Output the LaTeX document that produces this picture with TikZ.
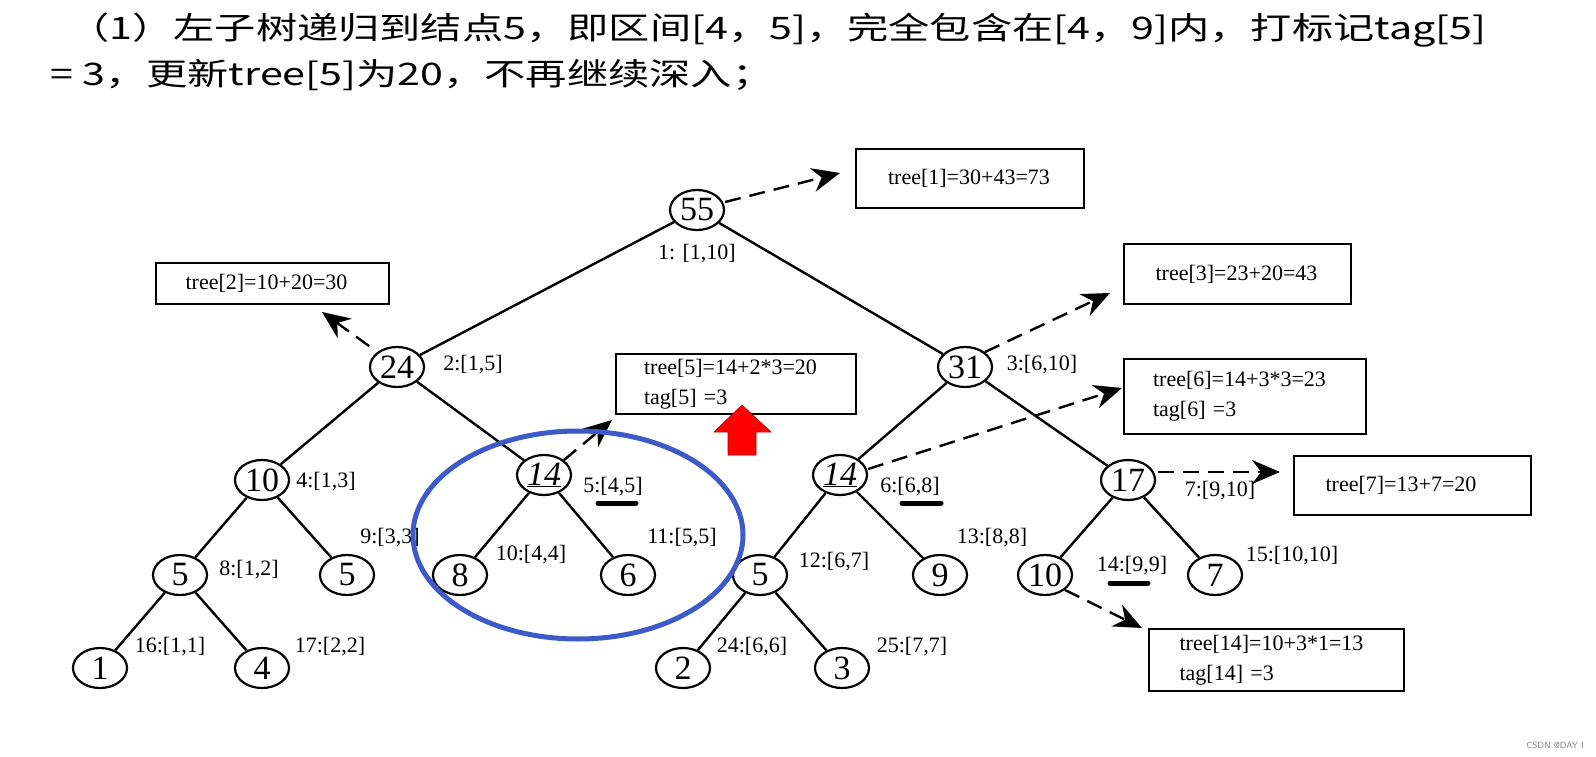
\documentclass[tikz,border=0pt]{standalone}
\usepackage{fontspec}
\setmainfont{Liberation Serif}
\newfontfamily\cjk{Noto Sans CJK SC}
\usetikzlibrary{shapes.geometric,arrows.meta}
\begin{document}
\begin{tikzpicture}[x=1pt,y=-1pt,
  tn/.style={draw,ellipse,line width=2.2pt,minimum width=54pt,minimum height=40pt,inner sep=0pt,font=\fontsize{34}{34}\selectfont},
  lb/.style={font=\fontsize{22}{24}\selectfont,inner sep=0pt},
  bx/.style={draw,line width=2.2pt,anchor=north west,align=left,font=\fontsize{22}{30}\selectfont,inner sep=0pt},
  ed/.style={line width=2.4pt},
  da/.style={line width=2.4pt,dash pattern=on 16pt off 9pt,-{Stealth[length=28pt,width=24pt]}},
  bar/.style={line width=5pt,line cap=round}]
\useasboundingbox (0,0) rectangle (1596,757);
\node[anchor=west,font=\cjk\fontsize{31}{33}\selectfont,transform shape,xscale=1.33,inner sep=0pt] (h1) at (68,30) {（1）左子树递归到结点5，即区间[4，5]，完全包含在[4，9]内，打标记tag[5]};
\node[anchor=west,font=\cjk\fontsize{31}{33}\selectfont,transform shape,xscale=1.33,inner sep=0pt] (h2) at (50,75) {= 3，更新tree[5]为20，不再继续深入；};
% tree nodes
\node[tn] (n1) at (697,210) {55};
\node[tn] (n2) at (397,367) {24};
\node[tn] (n3) at (965,367) {31};
\node[tn] (n4) at (262,480) {10};
\node[tn] (n5) at (544,475) {\underline{\itshape 14}};
\node[tn] (n6) at (840,475) {\underline{\itshape 14}};
\node[tn] (n7) at (1128,480) {17};
\node[tn] (n8) at (180,575) {5};
\node[tn] (n9) at (347,575) {5};
\node[tn] (n10) at (460,575) {8};
\node[tn] (n11) at (628,575) {6};
\node[tn] (n12) at (760,575) {5};
\node[tn] (n13) at (940,575) {9};
\node[tn] (n14) at (1045,575) {10};
\node[tn] (n15) at (1215,575) {7};
\node[tn] (n16) at (100,668) {1};
\node[tn] (n17) at (262,668) {4};
\node[tn] (n24) at (683,668) {2};
\node[tn] (n25) at (842,668) {3};
\foreach \a/\b in {n1/n2,n1/n3,n2/n4,n2/n5,n3/n6,n3/n7,n4/n8,n4/n9,n5/n10,n5/n11,n6/n12,n6/n13,n7/n14,n7/n15,n8/n16,n8/n17,n12/n24,n12/n25}
  \draw[ed] (\a) -- (\b);
% labels
\node[lb] (l1) at (697,254) {1: [1,10]};
\node[lb] (l2) at (473,365) {2:[1,5]};
\node[lb] (l3) at (1042,365) {3:[6,10]};
\node[lb] (l4) at (326,482) {4:[1,3]};
\node[lb] (l5) at (613,487) {5:[4,5]};
\node[lb] (l6) at (910,487) {6:[6,8]};
\node[lb] (l7) at (1220,491) {7:[9,10]};
\node[lb] (l8) at (249,570) {8:[1,2]};
\node[lb] (l9) at (390,538) {9:[3,3]};
\node[lb] (l10) at (531,555) {10:[4,4]};
\node[lb] (l11) at (682,538) {11:[5,5]};
\node[lb] (l12) at (834,562) {12:[6,7]};
\node[lb] (l13) at (992,538) {13:[8,8]};
\node[lb] (l14) at (1132,566) {14:[9,9]};
\node[lb] (l15) at (1292,556) {15:[10,10]};
\node[lb] (l16) at (170,647) {16:[1,1]};
\node[lb] (l17) at (330,647) {17:[2,2]};
\node[lb] (l24) at (752,647) {24:[6,6]};
\node[lb] (l25) at (912,647) {25:[7,7]};
\draw[bar] (598,503) -- (636,503);
\draw[bar] (902,503) -- (941,503);
\draw[bar] (1110,583) -- (1148,583);
% boxes
\node[bx,minimum width=228pt,minimum height=59pt,text width=200pt] (b1) at (855,148) {\hspace*{18pt}tree[1]=30+43=73};
\node[bx,minimum width=233pt,minimum height=41pt,text width=210pt] (b2) at (155,262) {\hspace*{18pt}tree[2]=10+20=30};
\node[bx,minimum width=227pt,minimum height=60pt,text width=200pt] (b3) at (1123,243) {\hspace*{18pt}tree[3]=23+20=43};
\node[bx,minimum width=240pt,minimum height=60pt,text width=220pt] (b5) at (615,353) {\hspace*{18pt}tree[5]=14+2*3=20\\\hspace*{18pt}tag[5] =3};
\node[bx,minimum width=242pt,minimum height=75pt,text width=220pt] (b6) at (1123,358) {\hspace*{18pt}tree[6]=14+3*3=23\\\hspace*{18pt}tag[6] =3};
\node[bx,minimum width=237pt,minimum height=59pt,text width=210pt] (b7) at (1293,455) {\hspace*{18pt}tree[7]=13+7=20};
\node[bx,minimum width=255pt,minimum height=62pt,text width=230pt] (b14) at (1148,628) {\hspace*{18pt}tree[14]=10+3*1=13\\\hspace*{18pt}tag[14] =3};
% dashed arrows
\coordinate (t1) at (840,173);
\coordinate (t2) at (322,312);
\coordinate (t3) at (1110,293);
\coordinate (t5) at (612,420);
\coordinate (t6) at (1122,388);
\coordinate (t7) at (1280,472);
\coordinate (t14) at (1142,628);
\draw[da] (n1.east) ++(0,-8) -- (t1);
\draw[da] (n2.north west) ++(-8,-6) -- (t2);
\draw[da] (n3.north east) -- (t3);
\draw[da] (n5.north east) -- (t5);
\draw[da] (n6.east) ++(0,-6) -- (t6);
\draw[da] (n7.east) ++(2,-8) -- (t7);
\draw[da] (n14.south east) -- (t14);
% red arrow
\fill[red,draw=red!70!black,line width=0.6pt] (728,455) -- (728,432) -- (714,432) -- (742,405) -- (771,432) -- (756,432) -- (756,455) -- cycle;
% blue ellipse
\draw[line width=5pt,color={rgb,255:red,60;green,90;blue,200}] (578,535) ellipse [x radius=165pt,y radius=104pt];
\node[font=\fontsize{9}{10}\selectfont\sffamily,text=gray] (wm) at (1555,745) {CSDN @DAY I};
\end{tikzpicture}
\end{document}
